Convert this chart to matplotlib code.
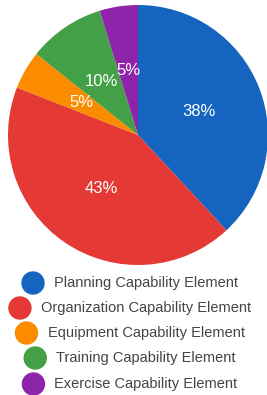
import matplotlib.pyplot as plt
from matplotlib.patches import Circle
from matplotlib.transforms import IdentityTransform

labels = ["Planning Capability Element", "Organization Capability Element",
          "Equipment Capability Element", "Training Capability Element",
          "Exercise Capability Element"]
counts = [8, 9, 1, 2, 1]
colors = ["#1565C0", "#E53935", "#FB8C00", "#43A047", "#8E24AA"]

W, H = 267, 395
fig = plt.figure(figsize=(W / 100, H / 100), dpi=100)
plt.rcParams['font.family'] = ['Liberation Sans', 'DejaVu Sans']

# pie: centre (138,135) px, radius 130 px
cx, cy, r = 138, 135, 130
ax = fig.add_axes([(cx - r) / W, (H - cy - r) / H, 2 * r / W, 2 * r / H])
wedges, texts, autotexts = ax.pie(
    counts, colors=colors, startangle=90, counterclock=False,
    autopct=lambda p: f"{p:.0f}%", pctdistance=0.5, radius=1,
    wedgeprops=dict(linewidth=0),
    textprops=dict(color="white", fontsize=12))
ax.set_xlim(-1, 1)
ax.set_ylim(-1, 1)
ax.set_axis_off()
for w in wedges:
    w.set_clip_on(False)

# legend rows, each centred horizontally
fig.canvas.draw()
renderer = fig.canvas.get_renderer()
row_y = [283, 308, 333, 358, 384]
centre_x = 130
mr = 11
gap = 21
for lab, col, y in zip(labels, colors, row_y):
    t = fig.text(0, 1 - y / H, lab, fontsize=10.5, color="#444444",
                 va="center", ha="left")
    tw = t.get_window_extent(renderer).width
    total = mr + gap + tw
    left = centre_x - total / 2
    mx = left + mr
    t.set_x((mx + gap) / W)
    fig.patches.append(Circle((mx, H - y), mr, color=col,
                              transform=IdentityTransform(), figure=fig))

fig.savefig("out.png", dpi=100)
